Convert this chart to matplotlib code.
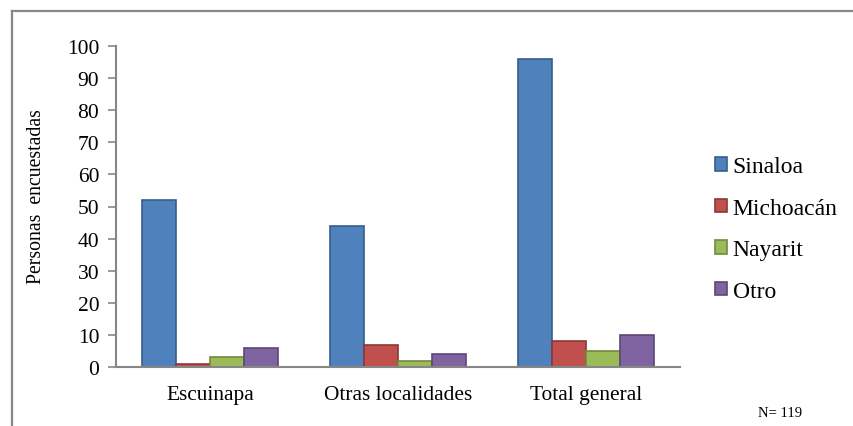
import numpy as np
import matplotlib
matplotlib.use('Agg')
import matplotlib.pyplot as plt
from matplotlib.lines import Line2D

categories = ['Escuinapa', 'Otras localidades', 'Total general']
series = ['Sinaloa', 'Michoacán', 'Nayarit', 'Otro']
values = {
    'Sinaloa': [52, 44, 96],
    'Michoacán': [1, 7, 8],
    'Nayarit': [3, 2, 5],
    'Otro': [6, 4, 10],
}
yticks = list(range(0, 101, 10))

FACE = ['#4F81BD', '#C0504D', '#9BBB59', '#8064A2']
EDGE = ['#385D8A', '#8C3836', '#71893F', '#5C4776']
GRAY = '#868686'

plt.rcParams['font.family'] = ['Liberation Serif', 'DejaVu Serif']

fig = plt.figure(figsize=(8.54, 4.27), dpi=100)
ax = fig.add_axes([116 / 854, 59 / 427, 564 / 854, 321 / 427])

x = np.arange(len(categories))
bar_w = 1 / 5.5
for i, name in enumerate(series):
    offs = (i - 1.5) * bar_w
    ax.bar(x + offs, values[name], width=bar_w, color=FACE[i],
           edgecolor=EDGE[i], linewidth=1.2, label=name)

ax.set_xlim(-0.5, len(categories) - 0.5)
ax.set_ylim(0, 100)
ax.set_yticks(yticks)
ax.set_xticks(x)
ax.set_xticklabels(categories, fontsize=15.4)
ax.tick_params(axis='x', length=0, pad=13)
ax.tick_params(axis='y', length=6, width=1.2, color=GRAY, labelsize=15.5, pad=6)
for side in ['top', 'right']:
    ax.spines[side].set_visible(False)
for side in ['left', 'bottom']:
    ax.spines[side].set_color(GRAY)
    ax.spines[side].set_linewidth(1.5)

ax.set_ylabel('Personas  encuestadas', fontsize=14.2)
ax.yaxis.set_label_coords(-0.125, 0.533)

leg = ax.legend(loc='center left', bbox_to_anchor=(1.045, 0.43), frameon=False,
                fontsize=17, handlelength=0.5, handleheight=0.5,
                handletextpad=0.25, labelspacing=0.87, borderaxespad=0)

fig.text(780 / 854, 1 - 414 / 427, 'N= 119', fontsize=10.5, ha='center', va='center')

# chart frame
fig.add_artist(Line2D([12 / 854, 12 / 854], [0, 1 - 12 / 427], color='#888888',
                      linewidth=1.6, transform=fig.transFigure))
fig.add_artist(Line2D([12 / 854, 1], [1 - 12 / 427, 1 - 12 / 427], color='#888888',
                      linewidth=1.6, transform=fig.transFigure))

fig.savefig('out.png', dpi=100)
